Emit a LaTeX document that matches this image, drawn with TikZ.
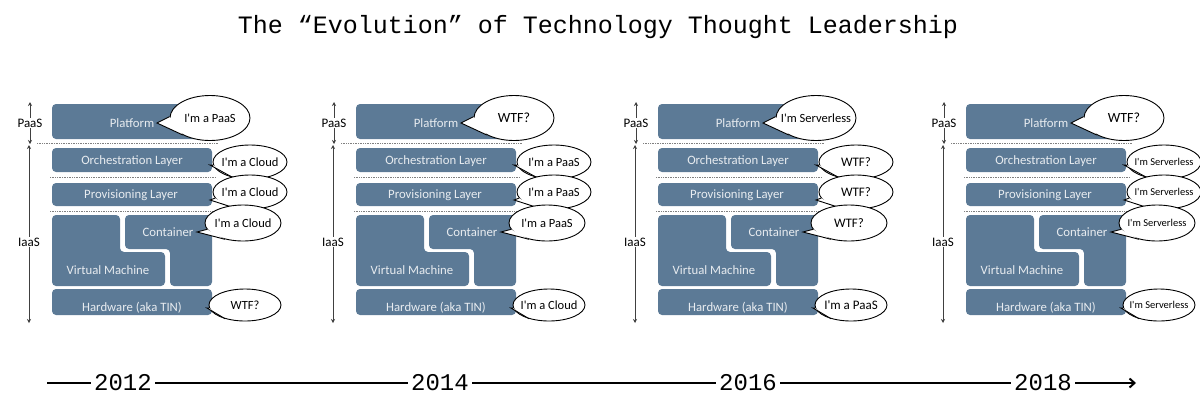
\documentclass[tikz,border=0pt]{standalone}
\usepackage{fontspec}
\usepackage{tikz}
\usetikzlibrary{shapes.geometric, arrows.meta}
\newfontfamily\boxfont{Carlito}
\newfontfamily\monofont{Liberation Mono}
\definecolor{slate}{RGB}{92,122,150}
\definecolor{boxtext}{RGB}{232,236,240}

% speech bubble tail: bubble, tip, two border angles
\newcommand{\tail}[4]{%
  \fill[white] (#2) -- (#1.#3) -- (#1.#4) -- cycle;
  \draw[black, line width=0.9] (#1.#3) -- (#2) -- (#1.#4);}

\begin{document}
\begin{tikzpicture}[x=1pt, y=-1pt, >=Stealth,
    layer/.style={fill=slate, rounded corners=4},
    lbl/.style={text=boxtext, inner sep=0, font=\boxfont\fontsize{12.75}{14}\selectfont},
    bubble/.style={ellipse, draw=black, line width=0.9, fill=white, inner sep=0},
    sep/.style={gray, densely dotted, line width=0.7},
    side/.style={inner sep=1, font=\boxfont\fontsize{13}{15}\selectfont},
    arr/.style={-{Stealth[length=4pt, width=4pt]}, line width=0.6, black!75},
    year/.style={fill=white, inner sep=3, font=\monofont\fontsize{24}{28}\selectfont},
    tline/.style={line width=2}]

    \useasboundingbox (0,0) rectangle (1200,416);

    % title
    \node (title) at (598,27) {\monofont\fontsize{25}{30}\selectfont The “Evolution” of Technology Thought Leadership};

    % the four stacks
    \foreach \dx/\ta/\tb/\tc/\td/\te/\fa/\fb in {
        0/I'm a PaaS/I'm a Cloud/I'm a Cloud/I'm a Cloud/WTF?/12.5/12.5,
        304/WTF?/I'm a PaaS/I'm a PaaS/I'm a PaaS/I'm a Cloud/14/12.5,
        606/I'm Serverless/WTF?/WTF?/WTF?/I'm a PaaS/12.5/13,
        914/WTF?/I'm Serverless/I'm Serverless/I'm Serverless/I'm Serverless/14/10.5} {
    \begin{scope}[xshift=\dx]
      % PaaS / IaaS markers
      \node[side] (paas) at (30,123) {PaaS};
      \coordinate (ptop) at (30,102);
      \coordinate (pbot) at (30,144);
      \draw[arr] (paas) -- (ptop);
      \draw[arr] (paas) -- (pbot);
      \node[side] (iaas) at (29,242) {IaaS};
      \coordinate (itop) at (29,145);
      \coordinate (ibot) at (29,323);
      \draw[arr] (iaas) -- (itop);
      \draw[arr] (iaas) -- (ibot);

      % separators
      \draw[sep] (37,143) -- (218,143);
      \draw[sep] (50,177) -- (216,177);
      \draw[sep] (50,211) -- (216,211);

      % layers
      \fill[layer] (52,104) rectangle (213,139);
      \node[lbl] (plat) at (132,123) {Platform};
      \fill[layer] (52,148) rectangle (212,172);
      \node[lbl] (orch) at (132,161) {Orchestration Layer};
      \fill[layer] (52,183) rectangle (212,206);
      \node[lbl] (prov) at (131,195) {Provisioning Layer};
      \fill[layer] (52,215) -- (120,215) -- (120,252) -- (165,252) -- (165,286) -- (52,286) -- cycle;
      \node[lbl] (vm) at (108,270) {Virtual Machine};
      \fill[layer] (125,215) -- (212,215) -- (212,286) -- (170,286) -- (170,249) -- (125,249) -- cycle;
      \node[lbl] (cont) at (168,232) {Container};
      \fill[layer] (52,289) rectangle (212,315);
      \node[lbl] (hw) at (132,308) {Hardware (aka TIN)};

      % bubbles
      \node[bubble, minimum width=80, minimum height=45] (b1) at (210,118) {};
      \coordinate (t1) at (157,123);
      \tail{b1}{t1}{178}{212}
      \node (s1) at (b1.center) {\boxfont\fontsize{\fa}{\fa}\selectfont\ta};

      \node[bubble, minimum width=74, minimum height=34] (b2) at (250,162) {};
      \coordinate (t2) at (210,165);
      \tail{b2}{t2}{185}{222}
      \node (s2) at (b2.center) {\boxfont\fontsize{\fb}{\fb}\selectfont\tb};

      \node[bubble, minimum width=74, minimum height=34] (b3) at (250,192) {};
      \coordinate (t3) at (210,200);
      \tail{b3}{t3}{190}{225}
      \node (s3) at (b3.center) {\boxfont\fontsize{\fb}{\fb}\selectfont\tc};

      \node[bubble, minimum width=76, minimum height=36] (b4) at (243,223) {};
      \coordinate (t4) at (197,232);
      \tail{b4}{t4}{190}{222}
      \node (s4) at (b4.center) {\boxfont\fontsize{\fb}{\fb}\selectfont\td};

      \node[bubble, minimum width=72, minimum height=32] (b5) at (245,305) {};
      \coordinate (t5) at (207,308);
      \tail{b5}{t5}{185}{215}
      \node (s5) at (b5.center) {\boxfont\fontsize{\fb}{\fb}\selectfont\te};
    \end{scope}
    }

    % timeline
    \coordinate (tl0) at (47,383);
    \coordinate (tl1) at (1136,383);
    \node[year] (y2012) at (123,383) {2012};
    \node[year] (y2014) at (440,383) {2014};
    \node[year] (y2016) at (748,383) {2016};
    \node[year] (y2018) at (1043,383) {2018};
    \foreach \a/\b in {tl0/y2012, y2012/y2014, y2014/y2016, y2016/y2018}
      \draw[tline] (\a) -- (\b);
    \draw[tline, -{Straight Barb[length=5pt, width=9pt]}] (y2018) -- (tl1);

\end{tikzpicture}
\end{document}
